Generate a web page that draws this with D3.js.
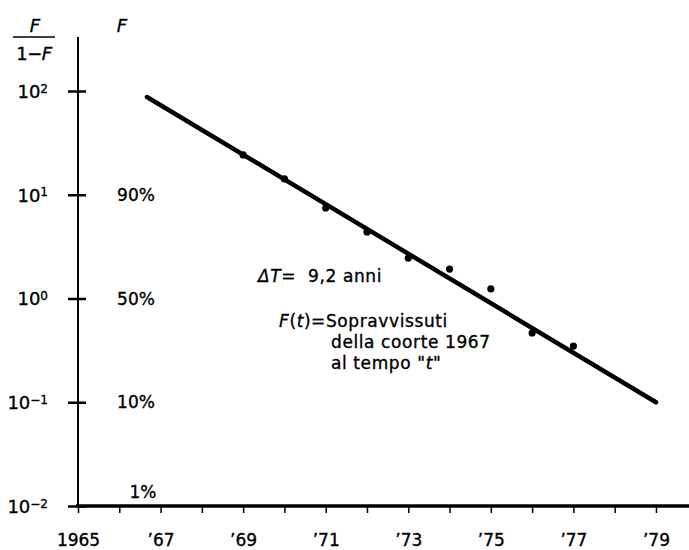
<!DOCTYPE html>
<html>
<head>
<meta charset="utf-8">
<script src="https://cdn.jsdelivr.net/npm/d3@7/dist/d3.min.js"></script>
<style>
  body { margin: 0; background: #fff; }
  svg { display: block; }
  svg text { fill: #000; font-family: 'DejaVu Sans', 'Liberation Sans', Arial, sans-serif; stroke: #000; stroke-width: 0.35px; }
</style>
</head>
<body>
<svg id="plot" width="689" height="550"></svg>
<script>
// survivors of the 1967 cohort, F/(1-F) on a log scale
const years = [1969, 1970, 1971, 1972, 1973, 1974, 1975, 1976, 1977];
const ratios = [24.2, 14.2, 7.45, 4.38, 2.45, 1.92, 1.24, 0.465, 0.348];

// fitted line end points
const fitYears = [1966.67, 1979];
const fitRatios = [87.5, 0.1];

const xTicks = [1965, 1967, 1969, 1971, 1973, 1975, 1977, 1979];
const xTickLabels = ['1965', '\u201967', '\u201969', '\u201971', '\u201973', '\u201975', '\u201977', '\u201979'];
const minorYears = d3.range(1965, 1980);

const yTicks = [0.01, 0.1, 1, 10, 100];
const yExponents = ['\u22122', '\u22121', '0', '1', '2'];

const pctValues = [10, 1, 0.1, 0.01];
const pctLabels = ['90%', '50%', '10%', '1%'];

const svg = d3.select('#plot');

const x = d3.scaleLinear().domain([1965, 1979.8]).range([78, 689]);
const y = d3.scaleLog().domain([0.01, 100]).range([506, 91]);

// y axis line
svg.append('line')
  .attr('x1', x(1965)).attr('x2', x(1965))
  .attr('y1', 37).attr('y2', y(0.01))
  .attr('stroke', '#000').attr('stroke-width', 2);

const yAxis = svg.append('g')
  .attr('transform', `translate(${x(1965)},0)`)
  .call(d3.axisLeft(y).tickValues(yTicks).tickSizeInner(10).tickSizeOuter(0).tickPadding(20).tickFormat(() => ''));
yAxis.select('.domain').remove();
yAxis.selectAll('.tick line')
  .attr('x2', -10).attr('x1', 8)
  .attr('stroke', '#000').attr('stroke-width', 2.5);
yAxis.selectAll('.tick text')
  .attr('font-size', 18)
  .attr('dy', '0.36em')
  .each(function (d, i) {
    const t = d3.select(this);
    t.append('tspan').text('10');
    t.append('tspan').attr('dy', '-0.45em').attr('font-size', 12).text(yExponents[i]);
  });

// x axis
const xMinor = svg.append('g')
  .attr('transform', `translate(0,${y(0.01)})`)
  .call(d3.axisBottom(x).tickValues(minorYears).tickSizeInner(7).tickSizeOuter(0).tickFormat(() => ''));
xMinor.select('.domain').remove();
xMinor.selectAll('.tick line').attr('stroke', '#000').attr('stroke-width', 1.5);

const xAxis = svg.append('g')
  .attr('transform', `translate(0,${y(0.01)})`)
  .call(d3.axisBottom(x).tickValues(xTicks).tickSize(0).tickPadding(28).tickFormat((d, i) => xTickLabels[i]));
xAxis.select('.domain').remove();
xAxis.selectAll('.tick text').attr('font-size', 17);

svg.append('line')
  .attr('x1', x(1965) - 2).attr('x2', 689)
  .attr('y1', y(0.01)).attr('y2', y(0.01))
  .attr('stroke', '#000').attr('stroke-width', 3.5);

// F percentage labels
svg.append('g').selectAll('text')
  .data(pctValues)
  .join('text')
  .attr('x', (d, i) => i === pctValues.length - 1 ? 143 : 136)
  .attr('y', (d, i) => y(d) + (i === pctValues.length - 1 ? -8 : 6))
  .attr('text-anchor', 'middle')
  .attr('font-size', 17)
  .text((d, i) => pctLabels[i]);

// fitted line
const line = d3.line().x((d) => x(d[0])).y((d) => y(d[1]));
svg.append('path')
  .datum(fitYears.map((yr, i) => [yr, fitRatios[i]]))
  .attr('fill', 'none')
  .attr('stroke', '#000')
  .attr('stroke-width', 4.5)
  .attr('stroke-linecap', 'round')
  .attr('d', line);

// data points
svg.append('g').selectAll('circle')
  .data(years)
  .join('circle')
  .attr('cx', (d) => x(d))
  .attr('cy', (d, i) => y(ratios[i]))
  .attr('r', 3.6)
  .attr('fill', '#000');

// axis titles
const frac = svg.append('g').attr('font-size', 18);
frac.append('text').attr('x', 35).attr('y', 32).attr('text-anchor', 'middle')
  .attr('font-style', 'italic').text('F');
frac.append('line').attr('x1', 13).attr('x2', 55).attr('y1', 37).attr('y2', 37)
  .attr('stroke', '#000').attr('stroke-width', 1.5);
const den = frac.append('text').attr('x', 34).attr('y', 60).attr('text-anchor', 'middle')
  .attr('letter-spacing', -0.5);
den.append('tspan').text('1\u2212');
den.append('tspan').attr('font-style', 'italic').text('F');

svg.append('text').attr('x', 122).attr('y', 32).attr('text-anchor', 'middle')
  .attr('font-size', 18).attr('font-style', 'italic').text('F');

// annotations
const note = svg.append('g').attr('font-size', 17).attr('letter-spacing', 0.6);
const dt = note.append('text').attr('x', 258).attr('y', 282);
dt.append('tspan').attr('font-style', 'italic').text('\u0394T');
dt.append('tspan').text('=\u00a0 9,2 anni');

const ft = note.append('text').attr('x', 279).attr('y', 327);
ft.append('tspan').attr('font-style', 'italic').text('F');
ft.append('tspan').text('(');
ft.append('tspan').attr('font-style', 'italic').text('t');
ft.append('tspan').text(')=Sopravvissuti');
note.append('text').attr('x', 331).attr('y', 348).text('della coorte 1967');
const at = note.append('text').attr('x', 331).attr('y', 369);
at.append('tspan').text('al tempo "');
at.append('tspan').attr('font-style', 'italic').text('t');
at.append('tspan').text('"');
</script>
</body>
</html>
